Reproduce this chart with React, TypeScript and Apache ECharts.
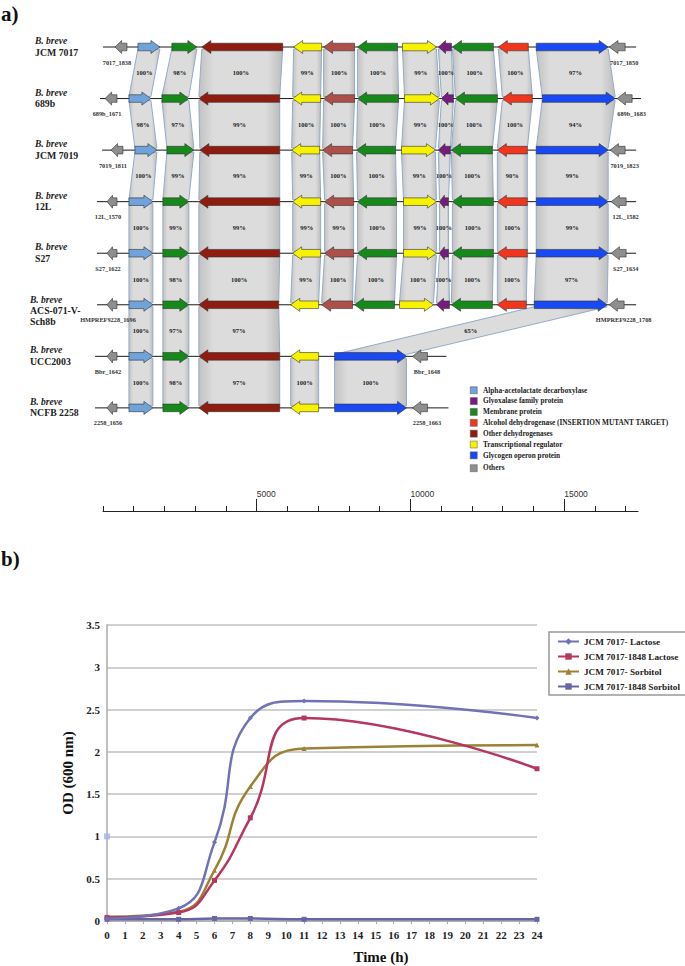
import React, { useEffect, useRef } from 'react';
import * as echarts from 'echarts';

const SERIF = '"Liberation Serif", "Times New Roman", serif';
const SANS = '"Liberation Sans", Arial, sans-serif';

// ---------------- Panel a: gene cluster map (coordinates in bp) ----------------
const strainNames = [['JCM 7017'], ['689b'], ['JCM 7019'], ['12L'], ['S27'], ['ACS-071-V-', 'Sch8b'], ['UCC2003'], ['NCFB 2258']];

// [start, end, strand, type]
const genesJCM7017 = [[390, 780, -1, 'oth'], [1136, 1851, 1, 'ala'], [2240, 3052, 1, 'mem'], [3214, 5844, -1, 'odh'], [6201, 7110, -1, 'trn'], [7175, 8182, -1, 'odh2'], [8280, 9578, -1, 'mem'], [9740, 10844, 1, 'trn'], [10909, 11332, -1, 'gly'], [11364, 12695, -1, 'mem'], [12857, 13832, -1, 'adh'], [14091, 16429, 1, 'glg'], [16462, 16982, -1, 'oth']];
const genes689b = [[65, 455, -1, 'oth'], [844, 1558, 1, 'ala'], [1916, 2792, 1, 'mem'], [3117, 5747, -1, 'odh'], [6169, 7078, -1, 'trn'], [7175, 8182, -1, 'odh2'], [8280, 9611, -1, 'mem'], [9805, 10942, 1, 'trn'], [11007, 11397, -1, 'gly'], [11462, 12826, -1, 'mem'], [12988, 13962, -1, 'adh'], [14286, 16657, 1, 'glg'], [16722, 17209, -1, 'oth']];
const genesJCM7019 = [[260, 649, -1, 'oth'], [1039, 1753, 1, 'ala'], [2078, 2955, 1, 'mem'], [3150, 5747, -1, 'odh'], [6137, 7046, -1, 'trn'], [7143, 8117, -1, 'odh2'], [8247, 9514, -1, 'mem'], [9708, 10812, 1, 'trn'], [10909, 11299, -1, 'gly'], [11332, 12663, -1, 'mem'], [12825, 13800, -1, 'adh'], [14091, 16429, 1, 'glg'], [16494, 16982, -1, 'oth']];
const genes12L = [[130, 455, -1, 'oth'], [844, 1623, 1, 'ala'], [1948, 2792, 1, 'mem'], [3117, 5747, -1, 'odh'], [6169, 7078, -1, 'trn'], [7208, 8150, -1, 'odh2'], [8280, 9546, -1, 'mem'], [9773, 10844, 1, 'trn'], [10942, 11235, -1, 'gly'], [11364, 12695, -1, 'mem'], [12825, 13800, -1, 'adh'], [14091, 16429, 1, 'glg'], [16527, 17014, -1, 'oth']];
const genesS27 = [[130, 455, -1, 'oth'], [844, 1623, 1, 'ala'], [1948, 2792, 1, 'mem'], [3117, 5747, -1, 'odh'], [6169, 7078, -1, 'trn'], [7208, 8150, -1, 'odh2'], [8280, 9546, -1, 'mem'], [9773, 10844, 1, 'trn'], [10942, 11235, -1, 'gly'], [11364, 12695, -1, 'mem'], [12825, 13800, -1, 'adh'], [14091, 16429, 1, 'glg'], [16527, 17014, -1, 'oth']];
const genesACS071 = [[130, 455, -1, 'oth'], [844, 1623, 1, 'ala'], [1948, 2792, 1, 'mem'], [3117, 5714, -1, 'odh'], [6104, 7013, -1, 'trn'], [7110, 8117, -1, 'odh2'], [8182, 9481, -1, 'mem'], [9643, 10747, 1, 'trn'], [10845, 11267, -1, 'gly'], [11332, 12663, -1, 'mem'], [12825, 13767, -1, 'adh'], [14026, 16397, 1, 'glg'], [16462, 16949, -1, 'oth']];
const genesUCC2003 = [[130, 455, -1, 'oth'], [844, 1623, 1, 'ala'], [1948, 2792, 1, 'mem'], [3117, 5747, -1, 'odh'], [6104, 7013, -1, 'trn'], [7533, 9871, 1, 'glg'], [10066, 10553, -1, 'oth']];
const genesNCFB2258 = [[130, 455, -1, 'oth'], [844, 1623, 1, 'ala'], [1948, 2792, 1, 'mem'], [3117, 5747, -1, 'odh'], [6104, 7013, -1, 'trn'], [7533, 9871, 1, 'glg'], [10066, 10553, -1, 'oth']];
const genomeRows = [genesJCM7017, genes689b, genesJCM7019, genes12L, genesS27, genesACS071, genesUCC2003, genesNCFB2258];
const backbones = [[0, 17340], [-100, 17500], [-30, 17340], [-195, 17340], [-195, 17340], [-195, 17340], [-260, 11170], [-260, 11235]];
const leftTags = ['7017_1838', '689b_1671', '7019_1811', '12L_1570', 'S27_1622', 'HMPREF9228_1696', 'Bbr_1642', '2258_1656'];
const rightTags = ['7017_1850', '689b_1683', '7019_1823', '12L_1582', 'S27_1634', 'HMPREF9228_1708', 'Bbr_1648', '2258_1663'];

// homology links between consecutive rows: [gene in upper row, gene in lower row, identity %]
const homology01 = [[1, 1, 100], [2, 2, 98], [3, 3, 100], [4, 4, 99], [5, 5, 100], [6, 6, 100], [7, 7, 99], [8, 8, 100], [9, 9, 100], [10, 10, 100], [11, 11, 97]];
const homology12 = [[1, 1, 98], [2, 2, 97], [3, 3, 99], [4, 4, 100], [5, 5, 100], [6, 6, 100], [7, 7, 99], [8, 8, 100], [9, 9, 100], [10, 10, 100], [11, 11, 94]];
const homology23 = [[1, 1, 100], [2, 2, 99], [3, 3, 99], [4, 4, 99], [5, 5, 100], [6, 6, 100], [7, 7, 99], [8, 8, 100], [9, 9, 100], [10, 10, 90], [11, 11, 99]];
const homology34 = [[1, 1, 100], [2, 2, 99], [3, 3, 99], [4, 4, 99], [5, 5, 99], [6, 6, 100], [7, 7, 99], [8, 8, 100], [9, 9, 100], [10, 10, 100], [11, 11, 99]];
const homology45 = [[1, 1, 100], [2, 2, 98], [3, 3, 100], [4, 4, 99], [5, 5, 100], [6, 6, 100], [7, 7, 100], [8, 8, 100], [9, 9, 100], [10, 10, 100], [11, 11, 97]];
const homology56 = [[1, 1, 100], [2, 2, 97], [3, 3, 97], [11, 5, 65]];
const homology67 = [[1, 1, 100], [2, 2, 98], [3, 3, 97], [4, 4, 100], [5, 5, 100]];
const homologyPairs = [homology01, homology12, homology23, homology34, homology45, homology56, homology67];

const geneTypeColors: Record<string, string> = {
  oth: '#8e8e8e', ala: '#6fa3da', mem: '#17891a', odh: '#8f1c10', odh2: '#ad5049',
  trn: '#f7f200', gly: '#761c7c', adh: '#f0361c', glg: '#1849f2',
};
const legendLabels = ['Alpha-acetolactate decarboxylase', 'Glyoxalase family protein', 'Membrane protein', 'Alcohol dehydrogenase (INSERTION MUTANT TARGET)', 'Other dehydrogenases', 'Transcriptional regulator', 'Glycogen operon protein', 'Others'];
const legendTypes = ['ala', 'gly', 'mem', 'adh', 'odh', 'trn', 'glg', 'oth'];
const scaleMinorTicks = [0, 1000, 2000, 3000, 4000, 6000, 7000, 8000, 9000, 11000, 12000, 13000, 14000, 16000, 17000];
const scaleMajorTicks = [5000, 10000, 15000];

// ---------------- Panel b: growth curves ----------------
const hours = [0, 4, 6, 8, 11, 24];
const odLactose = [0.03, 0.15, 0.93, 2.4, 2.6, 2.4];
const odMutLactose = [0.04, 0.1, 0.48, 1.22, 2.4, 1.8];
const odSorbitol = [0.05, 0.11, 0.6, 1.59, 2.04, 2.08];
const odMutSorbitol = [0.02, 0.02, 0.03, 0.03, 0.02, 0.02];
const strayPoint = [[0, 1]];
const seriesNames = ['JCM 7017- Lactose', 'JCM 7017-1848 Lactose', 'JCM 7017- Sorbitol', 'JCM 7017-1848 Sorbitol'];

function arrowPoints(xa: number, xb: number, y: number, dir: number) {
  const len = xb - xa;
  const head = Math.min(9, len * 0.55);
  const bh = 3.8, hh = 6.5;
  if (dir > 0) {
    return [[xa, y - bh], [xb - head, y - bh], [xb - head, y - hh], [xb, y], [xb - head, y + hh], [xb - head, y + bh], [xa, y + bh]];
  }
  return [[xb, y - bh], [xa + head, y - bh], [xa + head, y - hh], [xa, y], [xa + head, y + hh], [xa + head, y + bh], [xb, y + bh]];
}

function buildOption() {
  const bandList: number[][] = [];
  homologyPairs.forEach((pairs, r) => pairs.forEach((p) => bandList.push([r, p[0], p[1], p[2]])));

  const renderBand = (params: any, api: any) => {
    const [r, gu, gl, pct] = bandList[params.dataIndex];
    const U = genomeRows[r][gu] as any[];
    const L = genomeRows[r + 1][gl] as any[];
    const ua = api.coord([U[0], r]);
    const ub = api.coord([U[1], r]);
    const la = api.coord([L[0], r + 1]);
    const lb = api.coord([L[1], r + 1]);
    const y1 = ua[1] + 2;
    const y2 = la[1] - 2;
    const fill = new echarts.graphic.LinearGradient(0, 0, 1, 0, [
      { offset: 0, color: '#c2c2c2' },
      { offset: 0.18, color: '#dcdcdc' },
      { offset: 0.82, color: '#dcdcdc' },
      { offset: 1, color: '#bdbdbd' },
    ]);
    return {
      type: 'group',
      children: [
        { type: 'polygon', shape: { points: [[ua[0], y1], [ub[0], y1], [lb[0], y2], [la[0], y2]] }, style: { fill, stroke: '#93abc9', lineWidth: 1 } },
        {
          type: 'text', x: (ua[0] + ub[0] + la[0] + lb[0]) / 4, y: (y1 + y2) / 2,
          style: { text: pct + '%', font: 'bold 6.5px ' + SERIF, fill: '#222', align: 'center', verticalAlign: 'middle' },
        },
      ],
    };
  };

  const renderGenome = (params: any, api: any) => {
    const i = params.dataIndex;
    const genes = genomeRows[i] as any[];
    const b = backbones[i];
    const s = api.coord([b[0], i]);
    const e = api.coord([b[1], i]);
    const y = s[1];
    const ch: any[] = [];
    ch.push({ type: 'line', shape: { x1: s[0], y1: y, x2: e[0], y2: y }, style: { stroke: '#1a1a1a', lineWidth: 1 } });
    genes.forEach((g) => {
      const xa = api.coord([g[0], i])[0];
      const xb = api.coord([g[1], i])[0];
      ch.push({ type: 'polygon', shape: { points: arrowPoints(xa, xb, y, g[2]) }, style: { fill: geneTypeColors[g[3]], stroke: '#333', lineWidth: 0.6 } });
    });
    const first = genes[0];
    const last = genes[genes.length - 1];
    const fx = (api.coord([first[0], i])[0] + api.coord([first[1], i])[0]) / 2;
    const lx = (api.coord([last[0], i])[0] + api.coord([last[1], i])[0]) / 2;
    const tagFont = 'bold 6.3px ' + SERIF;
    ch.push({ type: 'text', x: fx - 4, y: y + 15, style: { text: leftTags[i], font: tagFont, fill: '#333', align: 'center', verticalAlign: 'middle' } });
    ch.push({ type: 'text', x: lx + 7, y: y + 15, style: { text: rightTags[i], font: tagFont, fill: '#333', align: 'center', verticalAlign: 'middle' } });
    const x0 = i >= 5 ? 30 : 35;
    const names = strainNames[i];
    const top = names.length > 1 ? y - 5 : y - 6;
    ch.push({ type: 'text', x: x0, y: top, style: { text: 'B. breve', font: 'italic bold 9.5px ' + SERIF, fill: '#222', align: 'left', verticalAlign: 'middle' } });
    names.forEach((n, k) => {
      ch.push({ type: 'text', x: x0, y: top + 11 + 11 * k, style: { text: n, font: 'bold 9.8px ' + SERIF, fill: '#222', align: 'left', verticalAlign: 'middle' } });
    });
    return { type: 'group', children: ch };
  };

  const legendGraphics: any[] = [];
  legendLabels.forEach((label, k) => {
    const y = 390 + k * 10.85 + (k === legendLabels.length - 1 ? 2 : 0);
    legendGraphics.push({ type: 'rect', left: 470, top: y - 3.5, shape: { width: 7, height: 7 }, style: { fill: geneTypeColors[legendTypes[k]], stroke: '#555', lineWidth: 0.5 } });
    legendGraphics.push({ type: 'text', x: 483, y, style: { text: label, font: 'bold 7.3px ' + SERIF, fill: '#222', textAlign: 'left', textVerticalAlign: 'middle' } });
  });

  const colorsB = ['#7072b8', '#b5365f', '#9c8236', '#6666a6'];
  const symbolsB = ['diamond', 'rect', 'triangle', 'rect'];
  const valuesB = [odLactose, odMutLactose, odSorbitol, odMutSorbitol];

  return {
    animation: false,
    backgroundColor: '#ffffff',
    textStyle: { fontFamily: SERIF },
    grid: [
      { left: 103, right: 47, top: 47, bottom: 455 },
      { left: 103, right: 47, top: 47, bottom: 455 },
      { left: 107, right: 148, top: 625, bottom: 45 },
    ],
    xAxis: [
      {
        gridIndex: 0, type: 'value', min: 0, max: 17400, position: 'bottom',
        axisLine: { show: true, onZero: false, lineStyle: { color: '#222', width: 1 } },
        axisTick: { show: true, inside: true, length: 5, customValues: scaleMinorTicks, lineStyle: { color: '#222', width: 1 } },
        axisLabel: { show: false },
        splitLine: { show: false },
      },
      {
        gridIndex: 1, type: 'value', min: 0, max: 17400, position: 'bottom',
        axisLine: { show: false, onZero: false },
        axisTick: { show: true, inside: true, length: 12, customValues: scaleMajorTicks, lineStyle: { color: '#222', width: 1 } },
        axisLabel: {
          show: true, inside: true, customValues: scaleMajorTicks, align: 'left', margin: 13,
          fontFamily: SANS, fontSize: 8.5, color: '#333', formatter: (v: number) => String(v),
        },
        splitLine: { show: false },
      },
      {
        gridIndex: 2, type: 'value', min: 0, max: 24, interval: 1,
        axisLine: { show: true, onZero: false, lineStyle: { color: '#aaaaaa', width: 1.5 } },
        axisTick: { show: true, length: 3, lineStyle: { color: '#aaaaaa' } },
        axisLabel: { fontFamily: SERIF, fontWeight: 'bold', fontSize: 11, color: '#222', margin: 8 },
        splitLine: { show: false },
      },
    ],
    yAxis: [
      { gridIndex: 0, type: 'value', min: 0, max: 9, inverse: true, show: false },
      { gridIndex: 1, type: 'value', min: 0, max: 1, show: false },
      {
        gridIndex: 2, type: 'value', min: 0, max: 3.5, interval: 0.5,
        axisLine: { show: true, lineStyle: { color: '#aaaaaa', width: 1.5 } },
        axisTick: { show: false },
        axisLabel: { fontFamily: SERIF, fontWeight: 'bold', fontSize: 11, color: '#222', margin: 7 },
        splitLine: { show: true, lineStyle: { color: '#c0c0c0', width: 1.5 } },
        name: 'OD (600 nm)', nameLocation: 'middle', nameGap: 32,
        nameTextStyle: { fontFamily: SERIF, fontWeight: 'bold', fontSize: 15, color: '#111' },
      },
    ],
    legend: {
      data: seriesNames,
      orient: 'vertical', left: 549, top: 632,
      itemWidth: 21, itemHeight: 8, itemGap: 6,
      padding: [5, 6, 4, 8],
      borderColor: '#999', borderWidth: 1.5, backgroundColor: '#fff',
      textStyle: { fontFamily: SERIF, fontWeight: 'bold', fontSize: 9.2, color: '#222' },
    },
    graphic: [
      { type: 'text', left: 1, top: 3, style: { text: 'a)', font: 'bold 21px ' + SERIF, fill: '#111' } },
      { type: 'text', left: 1, top: 548, style: { text: 'b)', font: 'bold 21px ' + SERIF, fill: '#111' } },
      { type: 'text', x: 381, y: 957, style: { text: 'Time (h)', font: 'bold 15px ' + SERIF, fill: '#111', textAlign: 'center', textVerticalAlign: 'middle' } },
      ...legendGraphics,
    ],
    series: [
      {
        type: 'custom', name: 'homology', xAxisIndex: 0, yAxisIndex: 0, z: 1,
        data: bandList.map((b) => [(genomeRows[b[0]][b[1]] as any[])[0], b[0]]),
        encode: { x: 0, y: 1 },
        renderItem: renderBand, silent: true,
      },
      {
        type: 'custom', name: 'genomes', xAxisIndex: 0, yAxisIndex: 0, z: 2,
        data: backbones.map((b, i) => [b[0], i, b[1]]),
        encode: { x: [0, 2], y: 1 },
        renderItem: renderGenome, silent: true,
      },
      ...seriesNames.map((name, k) => ({
        name, type: 'line', xAxisIndex: 2, yAxisIndex: 2,
        data: hours.map((h, j) => [h, valuesB[k][j]]),
        smooth: 0.5, symbol: symbolsB[k], symbolSize: 5,
        lineStyle: { width: 2.5, color: colorsB[k] },
        itemStyle: { color: colorsB[k] },
        z: 10 - k,
      })),
      {
        name: 'stray', type: 'scatter', xAxisIndex: 2, yAxisIndex: 2,
        data: strayPoint, symbol: 'rect', symbolSize: 6,
        itemStyle: { color: '#a7b3ea' },
      },
    ],
  };
}

export default function App() {
  const ref = useRef<HTMLDivElement>(null);
  useEffect(() => {
    const chart = echarts.init(ref.current as HTMLDivElement, null, { renderer: 'svg' });
    chart.setOption(buildOption() as any);
    return () => chart.dispose();
  }, []);
  return <div ref={ref} style={{ position: 'fixed', left: 0, top: 0, width: 685, height: 966, background: '#fff' }} />;
}
